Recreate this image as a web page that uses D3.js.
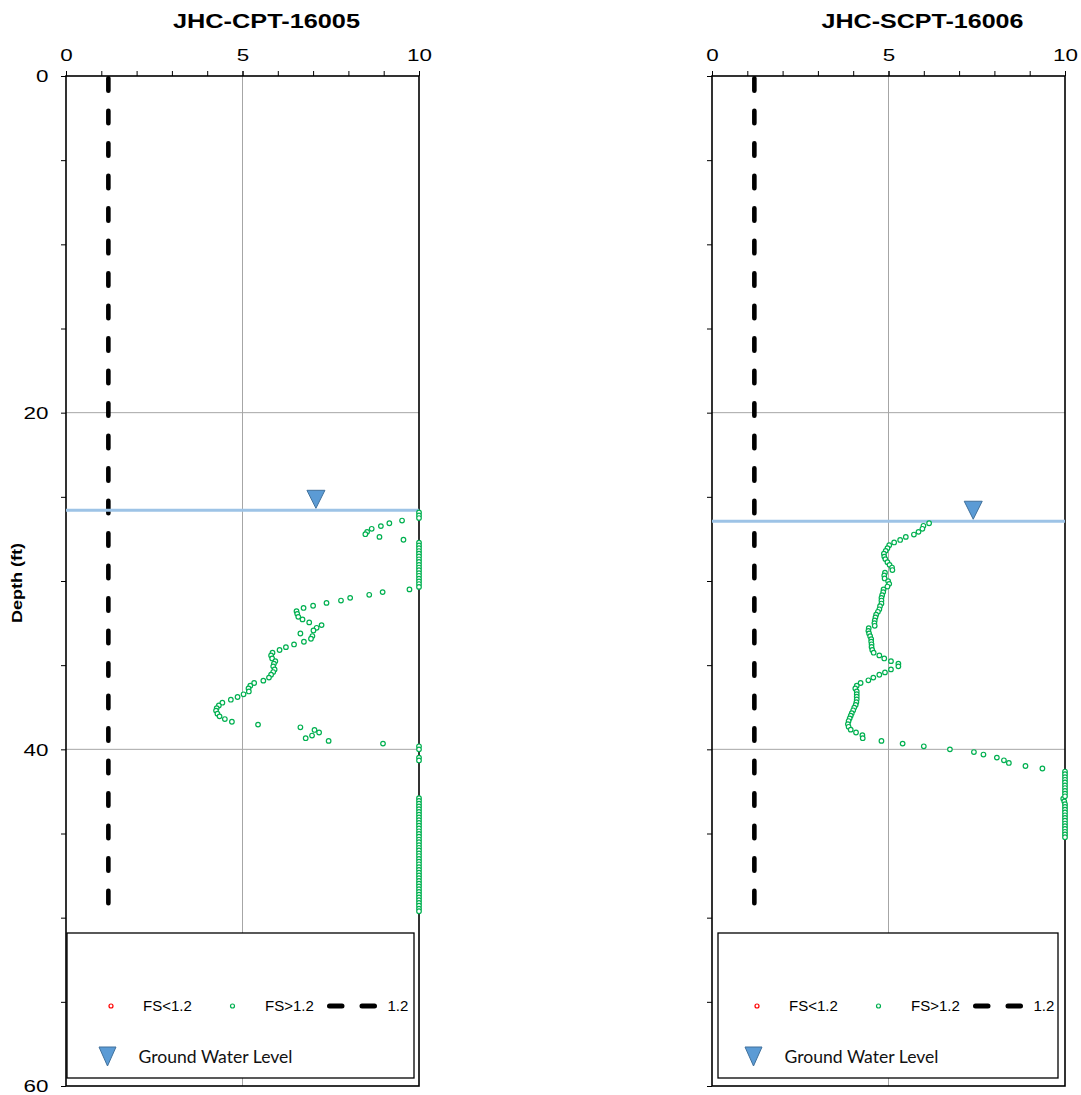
<!DOCTYPE html>
<html>
<head>
<meta charset="utf-8">
<script src="https://cdn.jsdelivr.net/npm/d3@7"></script>
<style>
  body { margin: 0; background: #fff; }
</style>
</head>
<body>
<svg id="chart" width="1081" height="1095"></svg>
<script>
// [depth (ft), FS]
const cpt16005Points = [
  [26.41, 9.52], [26.57, 9.16], [26.74, 8.92], [26.90, 8.66], [27.08, 8.53], [27.22, 8.48],
  [27.38, 8.88], [27.55, 9.56], [30.50, 9.73], [30.66, 8.97], [30.82, 8.59], [31.00, 8.05],
  [31.16, 7.79], [31.30, 7.38], [31.47, 7.00], [31.60, 6.73], [31.79, 6.53], [31.95, 6.55],
  [32.13, 6.58], [32.28, 6.70], [32.46, 6.89], [32.62, 7.24], [32.78, 7.10], [32.94, 7.01],
  [33.12, 6.64], [33.27, 6.98], [33.43, 6.94], [33.61, 6.74], [33.77, 6.46], [33.93, 6.23],
  [34.10, 6.05], [34.26, 5.85], [34.42, 5.81], [34.60, 5.84], [34.76, 5.93], [34.91, 5.89],
  [35.07, 5.87], [35.25, 5.91], [35.41, 5.87], [35.57, 5.81], [35.74, 5.75], [35.92, 5.59],
  [36.06, 5.33], [36.22, 5.22], [36.38, 5.17], [36.56, 5.18], [36.73, 5.03], [36.89, 4.86],
  [37.05, 4.67], [37.23, 4.43], [37.39, 4.33], [37.55, 4.27], [37.70, 4.25], [37.88, 4.29],
  [38.04, 4.35], [38.20, 4.50], [38.36, 4.70], [38.53, 5.44], [38.69, 6.64], [38.85, 7.04],
  [39.00, 7.17], [39.18, 6.97], [39.34, 6.79], [39.50, 7.44], [39.66, 8.98]
];
// depths where FS is plotted at the 10 cap
const cpt16005Capped = [
  25.93, 26.10, 26.26,
  27.72, 27.89, 28.05, 28.22, 28.38, 28.54, 28.71, 28.87, 29.04, 29.20, 29.36, 29.53, 29.69,
  29.86, 30.02, 30.18, 30.35,
  39.82, 40.00, 40.49, 40.66,
  42.90, 43.06, 43.23, 43.39, 43.56, 43.72, 43.88, 44.05, 44.21, 44.37, 44.54, 44.70, 44.87,
  45.03, 45.19, 45.36, 45.52, 45.69, 45.85, 46.01, 46.18, 46.34, 46.51, 46.67, 46.83, 47.00,
  47.16, 47.33, 47.49, 47.65, 47.82, 47.98, 48.14, 48.31, 48.47, 48.64, 48.80, 48.96, 49.13,
  49.29, 49.46, 49.62
];

const scpt16006Points = [
  [26.57, 6.15], [26.72, 5.99], [26.90, 5.96], [27.08, 5.85], [27.24, 5.72], [27.38, 5.49],
  [27.56, 5.33], [27.71, 5.16], [27.87, 5.02], [28.05, 4.97], [28.21, 4.92], [28.38, 4.87],
  [28.55, 4.88], [28.70, 4.91], [28.88, 4.97], [29.04, 5.03], [29.20, 5.10], [29.35, 5.11],
  [29.51, 4.90], [29.67, 4.88], [29.85, 4.89], [30.01, 4.99], [30.17, 5.02], [30.33, 4.97],
  [30.50, 4.86], [30.66, 4.85], [30.84, 4.82], [31.00, 4.80], [31.16, 4.80], [31.34, 4.80],
  [31.50, 4.76], [31.68, 4.74], [31.83, 4.70], [32.00, 4.65], [32.16, 4.63], [32.34, 4.61],
  [32.50, 4.60], [32.66, 4.61], [32.80, 4.44], [32.96, 4.43], [33.12, 4.45], [33.28, 4.48],
  [33.45, 4.51], [33.60, 4.51], [33.76, 4.52], [33.92, 4.52], [34.10, 4.54], [34.26, 4.58],
  [34.42, 4.74], [34.60, 4.88], [34.76, 5.07], [34.91, 5.28], [35.07, 5.28], [35.25, 5.07],
  [35.43, 4.90], [35.57, 4.74], [35.74, 4.57], [35.90, 4.43], [36.06, 4.21], [36.22, 4.10],
  [36.38, 4.06], [36.56, 4.10], [36.72, 4.10], [36.87, 4.10], [37.03, 4.10], [37.20, 4.09],
  [37.36, 4.07], [37.52, 4.03], [37.68, 4.00], [37.85, 3.96], [38.00, 3.93], [38.16, 3.90],
  [38.32, 3.87], [38.50, 3.85], [38.66, 3.87], [38.83, 3.93], [39.00, 4.08], [39.16, 4.26],
  [39.34, 4.27], [39.50, 4.80], [39.66, 5.40], [39.82, 6.00], [40.00, 6.74], [40.16, 7.42],
  [40.31, 7.69], [40.49, 8.07], [40.65, 8.27], [40.81, 8.41], [40.99, 8.88], [41.14, 9.36],
  [42.93, 9.95], [43.10, 9.98]
];
const scpt16006Capped = [
  41.32, 41.48, 41.65, 41.81, 41.97, 42.14, 42.30, 42.47, 42.63, 42.79,
  43.26, 43.42, 43.59, 43.75, 43.92, 44.08, 44.24, 44.41, 44.57, 44.73, 44.90, 45.06, 45.22
];

const fsTicks = [0, 5, 10];
const depthTicks = [0, 20, 40, 60];
const fsLimit = 1.2;
const limitLineBottom = 50;
const gwlDepth16005 = 25.8, gwlMarker16005 = 7.08;
const gwlDepth16006 = 26.45, gwlMarker16006 = 7.4;

const svg = d3.select('#chart');
const font = '"Liberation Sans", Arial, sans-serif';
const green = '#00b050';

const logs = [
  { title: 'JHC-CPT-16005', x0: 66, titleX: 266.5, titleLen: 187, labels: true,
    points: cpt16005Points, capped: cpt16005Capped, gwl: gwlDepth16005, gwlMark: gwlMarker16005,
    boxX: 67, boxW: 347 },
  { title: 'JHC-SCPT-16006', x0: 712, titleX: 922.5, titleLen: 202, labels: false,
    points: scpt16006Points, capped: scpt16006Capped, gwl: gwlDepth16006, gwlMark: gwlMarker16006,
    boxX: 718, boxW: 340 }
];

const y = d3.scaleLinear().domain([0, 60]).range([76, 1086]);

function triangle(g, cx, tipY, w, h) {
  g.append('path')
    .attr('d', `M${cx - w / 2},${tipY - h}L${cx + w / 2},${tipY - h}L${cx},${tipY}Z`)
    .attr('fill', '#5b9bd5')
    .attr('stroke', '#41719c')
    .attr('stroke-width', 1);
}

function drawLog(cfg) {
  const x = d3.scaleLinear().domain([0, 10]).range([cfg.x0, cfg.x0 + 353]);
  const g = svg.append('g');

  // grid
  g.append('line')
    .attr('x1', x(5)).attr('x2', x(5)).attr('y1', y(0)).attr('y2', y(60))
    .attr('stroke', '#a6a6a6').attr('stroke-width', 1);
  [20, 40].forEach(d => {
    g.append('line')
      .attr('x1', x(0)).attr('x2', x(10)).attr('y1', y(d)).attr('y2', y(d))
      .attr('stroke', '#a6a6a6').attr('stroke-width', 1);
  });

  // top axis: minor ticks every 1, labels at 0/5/10
  const topMinor = g.append('g')
    .attr('transform', `translate(0,${y(0)})`)
    .call(d3.axisTop(x).tickValues(d3.range(0, 11)).tickSize(5).tickFormat(''));
  topMinor.select('.domain').remove();
  topMinor.selectAll('line').attr('stroke', '#000');

  const topAxis = g.append('g')
    .attr('transform', `translate(0,${y(0)})`)
    .call(d3.axisTop(x).tickValues(fsTicks).tickSize(5).tickFormat(d3.format('d')));
  topAxis.select('.domain').remove();
  topAxis.selectAll('line').attr('stroke', '#000');
  topAxis.selectAll('text')
    .attr('font-family', font).attr('font-size', 16).attr('fill', '#000')
    .attr('y', -15).attr('dy', 0)
    .attr('transform', 'scale(1.4,1)');

  // left axis: ticks every 5 ft
  const leftAxis = g.append('g')
    .attr('transform', `translate(${x(0)},0)`)
    .call(d3.axisLeft(y).tickValues(d3.range(0, 61, 5)).tickSize(5)
      .tickFormat(d => (cfg.labels && depthTicks.includes(d)) ? d : ''));
  leftAxis.select('.domain').remove();
  leftAxis.selectAll('line').attr('stroke', '#000');
  leftAxis.selectAll('text')
    .attr('font-family', font).attr('font-size', 16).attr('fill', '#000')
    .attr('x', -12.5).attr('dy', '0.36em')
    .attr('transform', 'scale(1.4,1)');

  // frame
  g.append('rect')
    .attr('x', x(0)).attr('y', y(0))
    .attr('width', x(10) - x(0)).attr('height', y(60) - y(0))
    .attr('fill', 'none').attr('stroke', '#000').attr('stroke-width', 1.6);

  // FS = 1.2 limit
  g.append('line')
    .attr('x1', x(fsLimit)).attr('x2', x(fsLimit))
    .attr('y1', y(0) + 2.25).attr('y2', y(limitLineBottom) - 2.25)
    .attr('stroke', '#000').attr('stroke-width', 4.6)
    .attr('stroke-linecap', 'round').attr('stroke-dasharray', '12.5,20');

  // ground water level
  g.append('line')
    .attr('x1', x(0)).attr('x2', x(10)).attr('y1', y(cfg.gwl)).attr('y2', y(cfg.gwl))
    .attr('stroke', '#9dc3e6').attr('stroke-width', 3);
  triangle(g, x(cfg.gwlMark), y(cfg.gwl) - 2, 18, 18);

  // points
  const all = cfg.points.concat(cfg.capped.map(d => [d, 10]));
  g.selectAll('circle.pt')
    .data(all)
    .enter()
    .append('circle')
    .attr('class', 'pt')
    .attr('cx', d => x(d[1]))
    .attr('cy', d => y(d[0]))
    .attr('r', 2.3)
    .attr('fill', '#fff')
    .attr('stroke', green)
    .attr('stroke-width', 1.2);

  // title
  g.append('text')
    .attr('x', cfg.titleX).attr('y', 28)
    .attr('text-anchor', 'middle')
    .attr('font-family', font).attr('font-weight', 'bold').attr('font-size', 21)
    .attr('textLength', cfg.titleLen).attr('lengthAdjust', 'spacingAndGlyphs')
    .text(cfg.title);

  // legend
  const lg = g.append('g');
  lg.append('rect')
    .attr('x', cfg.boxX).attr('y', 933).attr('width', cfg.boxW).attr('height', 145)
    .attr('fill', '#fff').attr('stroke', '#000').attr('stroke-width', 1.3);
  const lx = cfg.x0;
  lg.append('circle').attr('cx', lx + 45).attr('cy', 1006).attr('r', 2)
    .attr('fill', '#fff').attr('stroke', '#ff0000').attr('stroke-width', 1.2);
  lg.append('circle').attr('cx', lx + 166.5).attr('cy', 1006).attr('r', 2)
    .attr('fill', '#fff').attr('stroke', green).attr('stroke-width', 1.2);
  lg.append('line')
    .attr('x1', lx + 263.5).attr('x2', lx + 309).attr('y1', 1006).attr('y2', 1006)
    .attr('stroke', '#000').attr('stroke-width', 5)
    .attr('stroke-linecap', 'round').attr('stroke-dasharray', '12.5,20');
  [['FS<1.2', 77], ['FS>1.2', 199], ['1.2', 321.5]].forEach(([t, dx]) => {
    lg.append('text')
      .attr('x', lx + dx).attr('y', 1011)
      .attr('font-family', font).attr('font-size', 15).attr('fill', '#000')
      .text(t);
  });
  triangle(lg, lx + 41.5, 1066, 17, 19);
  lg.append('text')
    .attr('x', lx + 72.5).attr('y', 1062.5)
    .attr('font-family', 'Lato, "Open Sans", sans-serif').attr('font-size', 17.5).attr('fill', '#111')
    .attr('textLength', 154).attr('lengthAdjust', 'spacingAndGlyphs')
    .text('Ground Water Level');
}

logs.forEach(drawLog);

// y axis title
svg.append('text')
  .attr('transform', 'translate(22,583) rotate(-90)')
  .attr('text-anchor', 'middle')
  .attr('font-family', font).attr('font-weight', 'bold').attr('font-size', 14)
  .attr('textLength', 80).attr('lengthAdjust', 'spacingAndGlyphs')
  .text('Depth (ft)');
</script>
</body>
</html>
